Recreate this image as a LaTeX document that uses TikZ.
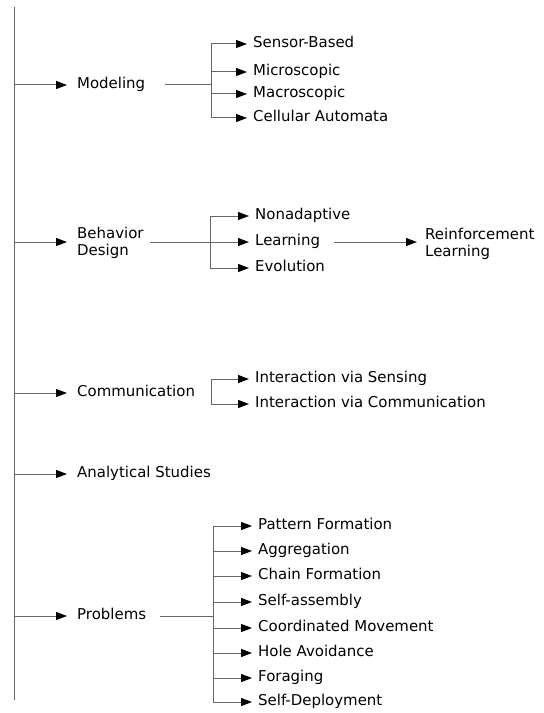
\documentclass[tikz,border=0pt]{standalone}
\usepackage{fontspec}
\setmainfont{DejaVu Sans}
\usetikzlibrary{arrows.meta}
\begin{document}
\begin{tikzpicture}[x=1bp,y=-1bp,
  ln/.style={draw=black!60, line width=1bp},
  arr/.style={ln, -{Triangle[length=11bp,width=8bp,color=black]}},
  lbl/.style={anchor=west, inner sep=0pt, font=\fontsize{15}{17.5}\selectfont, text height=11.2bp, text depth=3.8bp},
  mlbl/.style={anchor=west, inner sep=0pt, font=\fontsize{15}{17.5}\selectfont, align=left},
  cat/.style={arr, shorten >=10bp},
  sub/.style={arr, shorten >=6bp},
]
\useasboundingbox (0,0) rectangle (544,713);
\coordinate (top) at (14,7);
\coordinate (bot) at (14,700);
\draw[ln] (top) -- (bot);

% categories
\node[lbl]  (mod) at (77,85)  {Modeling};
\node[mlbl] (beh) at (77,243) {Behavior\\Design};
\node[lbl]  (com) at (77,393) {Communication};
\node[lbl]  (ana) at (77,474) {Analytical Studies};
\node[lbl]  (pro) at (77,616) {Problems};
\foreach \n in {mod,com,ana,pro}{\draw[cat] (top|-\n.west) -- (\n.west);}
\coordinate (bl) at (77,242);
\draw[cat] (top|-bl) -- (bl);

% Modeling
\coordinate (ms) at (165,85);
\coordinate (mb) at (211,85);
\node[lbl] (m1) at (253,44)  {Sensor-Based};
\node[lbl] (m2) at (253,72)  {Microscopic};
\node[lbl] (m3) at (253,94)  {Macroscopic};
\node[lbl] (m4) at (253,118) {Cellular Automata};
\draw[ln] (ms) -- (mb);
\draw[ln] (mb|-m1.west) -- (mb|-m4.west);
\foreach \n in {m1,m2,m3,m4}{\draw[sub] (mb|-\n.west) -- (\n.west);}

% Behavior Design
\coordinate (bs) at (150,242);
\coordinate (bb) at (210,242);
\node[lbl] (b1) at (255,216) {Nonadaptive};
\node[lbl] (b2) at (255,242) {Learning};
\node[lbl] (b3) at (255,268) {Evolution};
\node[mlbl] (rl) at (425,244) {Reinforcement\\Learning};
\draw[ln] (bs) -- (bb);
\draw[ln] (bb|-b1.west) -- (bb|-b3.west);
\foreach \n in {b1,b2,b3}{\draw[sub] (bb|-\n.west) -- (\n.west);}
\coordinate (rlend) at (425,242);
\draw[arr, shorten <=14bp, shorten >=8bp] (b2.east) -- (rlend);

% Communication
\coordinate (cb) at (211,393);
\node[lbl] (c1) at (255,379) {Interaction via Sensing};
\node[lbl] (c2) at (255,404) {Interaction via Communication};
\draw[ln] (cb|-c1.west) -- (cb|-c2.west);
\foreach \n in {c1,c2}{\draw[sub] (cb|-\n.west) -- (\n.west);}

% Problems
\coordinate (ps) at (160,616);
\coordinate (pb) at (213,616);
\node[lbl] (p1) at (258,526) {Pattern Formation};
\node[lbl] (p2) at (258,551) {Aggregation};
\node[lbl] (p3) at (258,576) {Chain Formation};
\node[lbl] (p4) at (258,602) {Self-assembly};
\node[lbl] (p5) at (258,628) {Coordinated Movement};
\node[lbl] (p6) at (258,653) {Hole Avoidance};
\node[lbl] (p7) at (258,678) {Foraging};
\node[lbl] (p8) at (258,702) {Self-Deployment};
\draw[ln] (ps) -- (pb);
\draw[ln] (pb|-p1.west) -- (pb|-p8.west);
\foreach \n in {p1,p2,p3,p4,p5,p6,p7,p8}{\draw[sub] (pb|-\n.west) -- (\n.west);}
\end{tikzpicture}
\end{document}
